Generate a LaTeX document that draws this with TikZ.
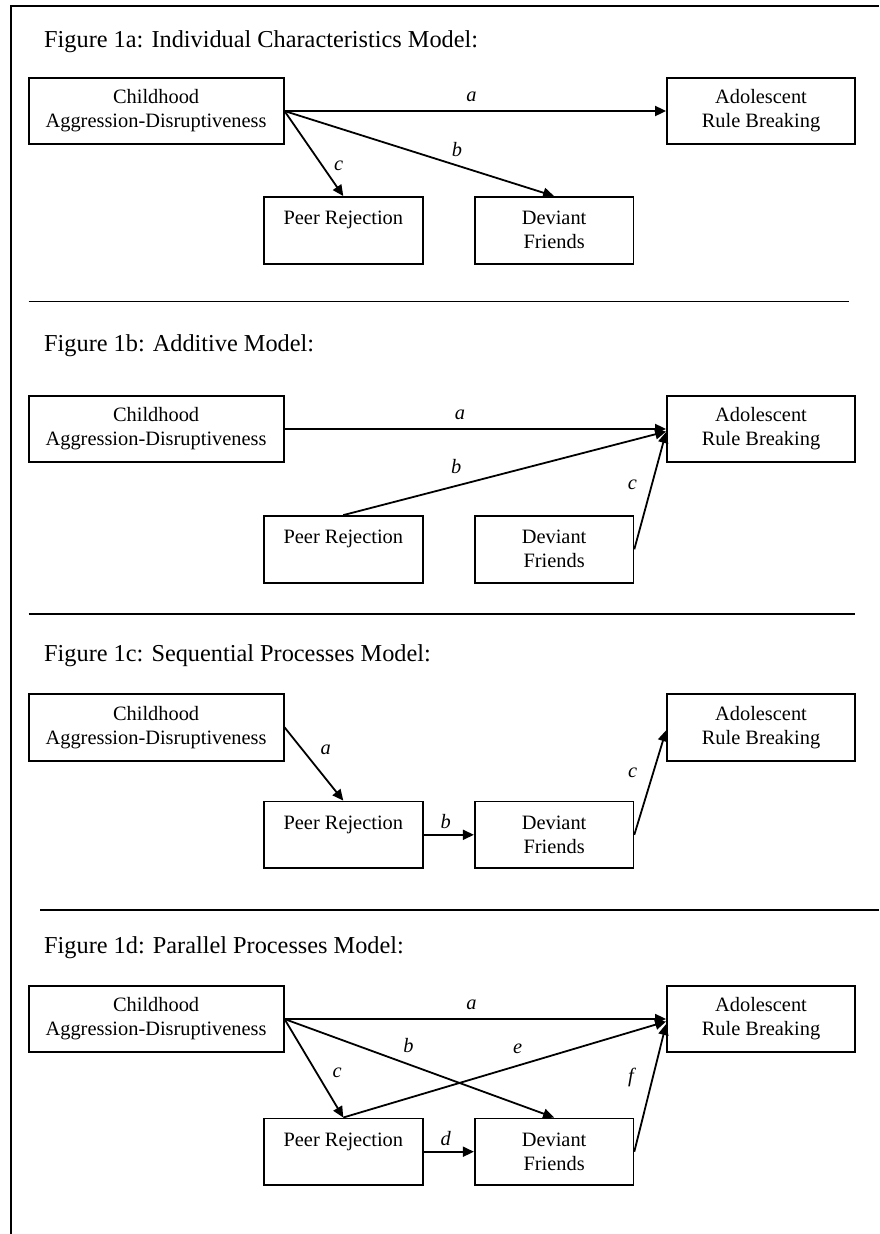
\documentclass[tikz,border=0pt]{standalone}
\usepackage{fontspec}
\setmainfont{Liberation Serif}
\usetikzlibrary{arrows.meta}

\begin{document}
\begin{tikzpicture}[x=1pt, y=-1pt,
    box/.style={draw, line width=1.8pt, minimum height=66.6pt, inner sep=0pt,
      align=center, font=\fontsize{20.4}{24}\selectfont},
    wide/.style={box, minimum width=255pt},
    outc/.style={box, minimum width=188pt},
    mid/.style={box, minimum width=158.6pt},
    path/.style={line width=1.8pt, -{Triangle[length=11pt,width=10pt]}},
    lbl/.style={inner sep=2pt, font=\fontsize{20.4}{24}\selectfont\itshape},
    title/.style={anchor=base west, inner sep=0pt, font=\fontsize{24.3}{29}\selectfont},
    rule/.style={line width=1.5pt}]
  \useasboundingbox (0,0) rectangle (879,1234);

  % marco
  \draw[rule] (11,1234) -- (11,6) -- (879,6);

  % Figura 1a
  \node[title] (t1) at (44,47) {Figure 1a: Individual Characteristics Model:};
  \node[wide] (child1) at (156.1,111) {Childhood\\Aggression-Disruptiveness};
  \node[outc] (adol1) at (761,111) {Adolescent\\Rule Breaking};
  \node[mid] (peer1) at (343.3,230.3) {Peer Rejection\\\phantom{Friends}};
  \node[mid] (dev1) at (554.1,230.3) {Deviant\\Friends};
  \draw[path] (child1.east) -- (adol1.west) node[lbl, pos=0.49, above=6pt] {a};
  \draw[path] (child1.east) -- (dev1.north) node[lbl, pos=0.64, above=6pt] {b};
  \draw[path] (child1.east) -- (peer1.north) node[lbl, pos=0.64, right=9pt] {c};
  \draw[rule] (28.6,301.7) -- (849,301.7);

  % Figura 1b
  \node[title] (t2) at (44,351) {Figure 1b: Additive Model:};
  \node[wide] (child2) at (156.1,429) {Childhood\\Aggression-Disruptiveness};
  \node[outc] (adol2) at (761,429) {Adolescent\\Rule Breaking};
  \node[mid] (peer2) at (343.3,549.3) {Peer Rejection\\\phantom{Friends}};
  \node[mid] (dev2) at (554.1,549.3) {Deviant\\Friends};
  \draw[path] (child2.east) -- (adol2.west) node[lbl, pos=0.46, above=6pt] {a};
  \draw[path] (peer2.north) -- ([yshift=-2.5pt]adol2.west) node[lbl, pos=0.35, above=9pt] {b};
  \draw[path] (dev2.east) -- ([yshift=-3pt]adol2.west) node[lbl, pos=0.55, left=12pt] {c};
  \draw[rule] (28.6,614) -- (855,614);

  % Figura 1c
  \node[title] (t3) at (44,661) {Figure 1c: Sequential Processes Model:};
  \node[wide] (child3) at (156.1,727.3) {Childhood\\Aggression-Disruptiveness};
  \node[outc] (adol3) at (761,727.3) {Adolescent\\Rule Breaking};
  \node[mid] (peer3) at (343.3,834.8) {Peer Rejection\\\phantom{Friends}};
  \node[mid] (dev3) at (554.1,834.8) {Deviant\\Friends};
  \draw[path] (child3.east) -- (peer3.north) node[lbl, pos=0.31, right=15pt] {a};
  \draw[path] (peer3.east) -- (dev3.west) node[lbl, pos=0.44, above=3pt] {b};
  \draw[path] (dev3.east) -- ([yshift=-3pt]adol3.west) node[lbl, pos=0.59, left=13pt] {c};
  \draw[rule] (40.4,910) -- (879,910);

  % Figura 1d
  \node[title] (t4) at (44,953) {Figure 1d: Parallel Processes Model:};
  \node[wide] (child4) at (156.1,1019) {Childhood\\Aggression-Disruptiveness};
  \node[outc] (adol4) at (761,1019) {Adolescent\\Rule Breaking};
  \node[mid] (peer4) at (343.3,1151.7) {Peer Rejection\\\phantom{Friends}};
  \node[mid] (dev4) at (554.1,1151.7) {Deviant\\Friends};
  \draw[path] (child4.east) -- (adol4.west) node[lbl, pos=0.49, above=6pt] {a};
  \draw[path] (child4.east) -- (dev4.north) node[lbl, pos=0.46, above=8.5pt] {b};
  \draw[path] (child4.east) -- (peer4.north) node[lbl, pos=0.55, right=13pt] {c};
  \draw[path] (peer4.north) -- ([yshift=-2.5pt]adol4.west) node[lbl, pos=0.54, above=9.5pt] {e};
  \draw[path] (peer4.east) -- (dev4.west) node[lbl, pos=0.44, above=3.5pt] {d};
  \draw[path] (dev4.east) -- ([yshift=-5pt]adol4.west) node[lbl, pos=0.58, left=16pt] {f};
\end{tikzpicture}
\end{document}
